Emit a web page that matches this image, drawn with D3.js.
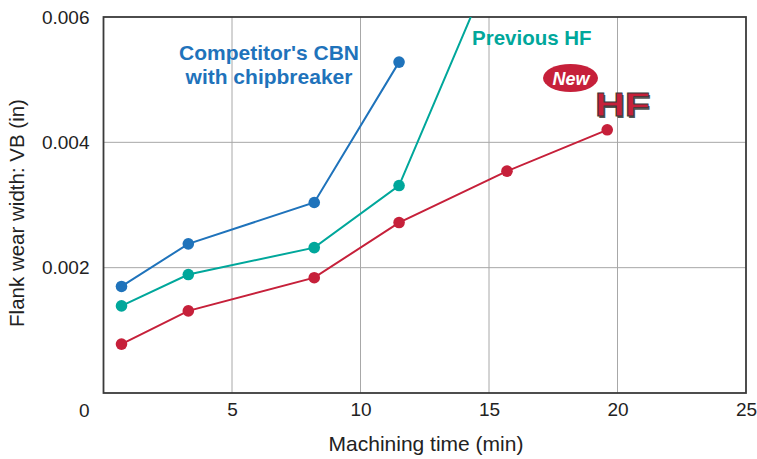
<!DOCTYPE html>
<html>
<head>
<meta charset="utf-8">
<script src="https://cdn.jsdelivr.net/npm/d3@7"></script>
<style>
  body { margin: 0; background: #fff; }
  text { font-family: "Liberation Sans", Arial, Helvetica, sans-serif; fill: #222; }
  .grid line { stroke: #a8a8a8; stroke-width: 1; }
  .frame { fill: none; stroke: #3a3a3a; stroke-width: 1.8; }
  .series { fill: none; stroke-width: 2; }
</style>
</head>
<body>
<div id="chart"></div>
<script>
// data
var competitor_x = [0.7, 3.3, 8.2, 11.5];
var competitor_y = [0.00170, 0.00238, 0.00304, 0.00528];

var previous_x = [0.7, 3.3, 8.2, 11.5, 15.7];
var previous_y = [0.00139, 0.00189, 0.00232, 0.00331, 0.00736];   // last point is off the chart

var newhf_x = [0.7, 3.3, 8.2, 11.5, 15.7, 19.6];
var newhf_y = [0.00078, 0.00131, 0.00184, 0.00272, 0.00354, 0.00420];

var x_ticks = [5, 10, 15, 20, 25];
var y_ticks = [0.002, 0.004, 0.006];
var x_grid = [5, 10, 15, 20];
var y_grid = [0.002, 0.004];

var blue = "#1f73bb";
var teal = "#00a79b";
var red = "#c6203a";

var W = 757, H = 459;
var plot_left = 103.5, plot_right = 746, plot_top = 17, plot_bottom = 393;

var svg = d3.select("#chart").append("svg")
    .attr("width", W)
    .attr("height", H);

var x = d3.scaleLinear().domain([0, 25]).range([plot_left, plot_right]);
var y = d3.scaleLinear().domain([0, 0.006]).range([plot_bottom, plot_top]);

svg.append("clipPath").attr("id", "plotclip")
  .append("rect")
    .attr("x", plot_left).attr("y", plot_top)
    .attr("width", plot_right - plot_left).attr("height", plot_bottom - plot_top);

// grid lines
var grid = svg.append("g").attr("class", "grid");
grid.selectAll(".vx").data(x_grid).enter().append("line")
    .attr("x1", function(d) { return x(d); })
    .attr("x2", function(d) { return x(d); })
    .attr("y1", plot_top).attr("y2", plot_bottom);
grid.selectAll(".hy").data(y_grid).enter().append("line")
    .attr("y1", function(d) { return y(d); })
    .attr("y2", function(d) { return y(d); })
    .attr("x1", plot_left).attr("x2", plot_right);

// axes (labels only, frame drawn separately)
svg.append("g")
    .attr("transform", "translate(0," + plot_bottom + ")")
    .call(d3.axisBottom(x).tickValues(x_ticks).tickSize(0).tickPadding(10).tickFormat(d3.format("d")));
svg.append("g")
    .attr("transform", "translate(" + plot_left + ",0)")
    .call(d3.axisLeft(y).tickValues(y_ticks).tickSize(0).tickPadding(14).tickFormat(d3.format(".3f")));
svg.selectAll(".domain").remove();
svg.selectAll(".tick text")
    .style("font-size", "19px")
    .style("font-family", "'Liberation Sans', Arial, sans-serif")
    .attr("fill", "#222");

// origin label
svg.append("text")
    .attr("x", plot_left - 14)
    .attr("y", 417)
    .attr("text-anchor", "end")
    .style("font-size", "19px")
    .text("0");

// frame
svg.append("rect").attr("class", "frame")
    .attr("x", plot_left).attr("y", plot_top)
    .attr("width", plot_right - plot_left).attr("height", plot_bottom - plot_top);

// axis titles
svg.append("text")
    .attr("x", 426)
    .attr("y", 451)
    .attr("text-anchor", "middle")
    .style("font-size", "21px")
    .text("Machining time (min)");

svg.append("text")
    .attr("transform", "translate(24,213) rotate(-90)")
    .attr("text-anchor", "middle")
    .style("font-size", "20.5px")
    .text("Flank wear width: VB (in)");

// series
function add_series(xs, ys, color) {
    var data = xs.map(function(d, i) { return [d, ys[i]]; });
    var line = d3.line()
        .x(function(d) { return x(d[0]); })
        .y(function(d) { return y(d[1]); });

    svg.append("path")
        .attr("class", "series")
        .attr("clip-path", "url(#plotclip)")
        .datum(data)
        .attr("stroke", color)
        .attr("d", line);

    svg.selectAll(null)
        .data(data.filter(function(d) { return d[1] <= 0.006; }))
        .enter().append("circle")
        .attr("cx", function(d) { return x(d[0]); })
        .attr("cy", function(d) { return y(d[1]); })
        .attr("r", 5.8)
        .attr("fill", color);
}

add_series(competitor_x, competitor_y, blue);
add_series(previous_x, previous_y, teal);
add_series(newhf_x, newhf_y, red);

// labels on the chart
var lab = svg.append("text")
    .attr("text-anchor", "middle")
    .style("font-size", "21px")
    .style("font-weight", "bold")
    .style("fill", blue);
lab.append("tspan").attr("x", 269).attr("y", 60).text("Competitor's CBN");
lab.append("tspan").attr("x", 269).attr("y", 84).text("with chipbreaker");

svg.append("text")
    .attr("x", 472)
    .attr("y", 45)
    .style("font-size", "20.5px")
    .style("font-weight", "bold")
    .style("fill", teal)
    .text("Previous HF");

// "New HF" logo
svg.append("ellipse")
    .attr("cx", 570.5).attr("cy", 78)
    .attr("rx", 27.5).attr("ry", 14)
    .attr("fill", red);
svg.append("text")
    .attr("x", 571).attr("y", 84.5)
    .attr("text-anchor", "middle")
    .style("font-size", "18px")
    .style("font-weight", "bold")
    .style("font-style", "italic")
    .style("fill", "#fff")
    .text("New");

svg.append("text")
    .attr("x", 596.5).attr("y", 117.5)
    .attr("textLength", 55)
    .attr("lengthAdjust", "spacingAndGlyphs")
    .style("font-size", "33px")
    .style("font-weight", "bold")
    .style("fill", "#555")
    .text("HF");
svg.append("text")
    .attr("x", 595).attr("y", 116)
    .attr("textLength", 55)
    .attr("lengthAdjust", "spacingAndGlyphs")
    .style("font-size", "33px")
    .style("font-weight", "bold")
    .style("fill", red)
    .style("stroke", "#3a3a3a")
    .style("stroke-width", 0.8)
    .text("HF");
</script>
</body>
</html>
